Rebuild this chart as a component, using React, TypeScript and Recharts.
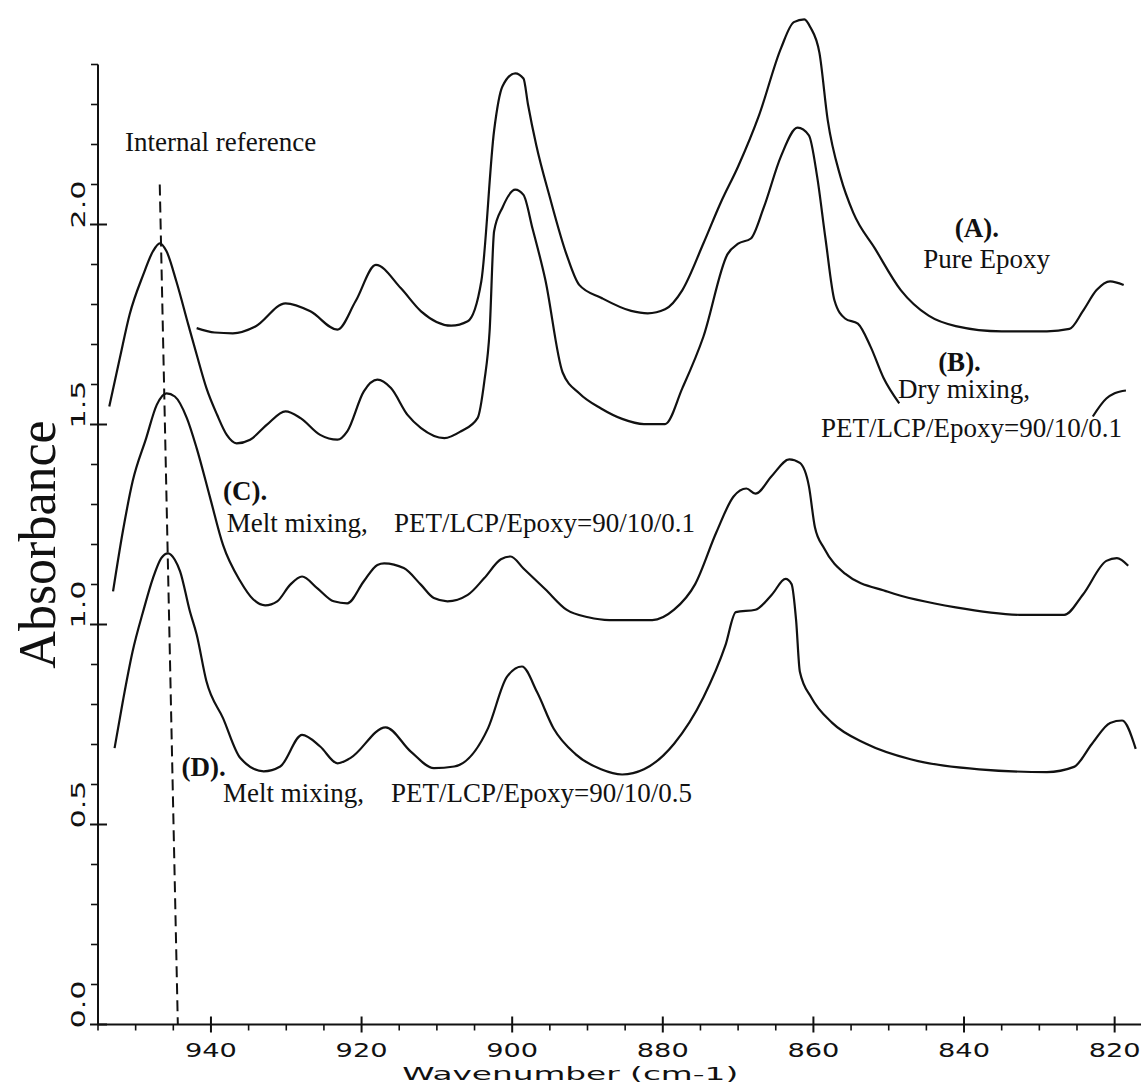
import React from 'react';
import { LineChart, Line, XAxis, YAxis, ReferenceLine, ReferenceDot } from 'recharts';

// ---- data: [wavenumber (cm-1), absorbance] ----
const specA: [number, number][] = [
  [941.9, 1.741], [939.5, 1.73], [937.1, 1.728], [934.1, 1.745], [930.1, 1.803], [926.8, 1.783],
  [923.2, 1.737], [920.8, 1.808], [918.1, 1.899], [914.8, 1.841], [912.1, 1.783], [908.1, 1.747],
  [905.9, 1.758], [904.1, 1.858], [902.4, 2.235], [901.3, 2.345], [899.6, 2.378], [898.5, 2.365],
  [897.9, 2.3], [896.8, 2.198], [895.0, 2.068], [892.8, 1.926], [891.1, 1.849], [888.2, 1.817],
  [884.2, 1.784], [882.0, 1.778], [879.7, 1.788], [877.4, 1.836], [874.6, 1.953], [872.3, 2.055],
  [870.0, 2.145], [867.2, 2.274], [864.3, 2.441], [862.6, 2.506], [861.2, 2.513], [860.4, 2.493],
  [859.2, 2.429], [858.1, 2.261], [856.4, 2.119], [854.7, 2.029], [851.8, 1.939], [848.4, 1.836],
  [844.7, 1.772], [841.1, 1.746], [835.0, 1.733], [829.0, 1.733], [826.0, 1.739], [824.2, 1.784],
  [822.4, 1.836], [820.6, 1.858], [818.8, 1.849],
];

const specB: [number, number | null][] = [
  [953.5, 1.545], [952.1, 1.666], [950.8, 1.775], [949.0, 1.874], [947.7, 1.933], [946.8, 1.953],
  [945.9, 1.933], [944.6, 1.858], [943.0, 1.749], [941.9, 1.675], [940.6, 1.591], [939.2, 1.525],
  [937.9, 1.474], [936.6, 1.453], [934.8, 1.462], [932.6, 1.499], [930.1, 1.533], [928.1, 1.516],
  [925.5, 1.474], [923.2, 1.462], [921.9, 1.483], [919.7, 1.583], [917.9, 1.612], [916.1, 1.591],
  [913.9, 1.524], [912.1, 1.491], [909.0, 1.466], [906.8, 1.483], [904.6, 1.516], [903.7, 1.608],
  [903.0, 1.733], [902.4, 1.983], [901.3, 2.042], [899.6, 2.087], [898.5, 2.074], [897.3, 1.99],
  [895.6, 1.862], [893.3, 1.63], [891.1, 1.578], [888.2, 1.54], [885.4, 1.514], [882.5, 1.501],
  [879.7, 1.501], [877.4, 1.591], [874.6, 1.72], [871.4, 1.926], [870.0, 1.952], [868.3, 1.965],
  [866.6, 2.042], [864.3, 2.171], [862.1, 2.242], [860.6, 2.223], [859.5, 2.119], [858.4, 1.965],
  [857.2, 1.81], [855.8, 1.765], [854.1, 1.752], [852.4, 1.694], [850.7, 1.617], [848.6, 1.553],
  [836.0, null],
  [822.9, 1.52], [821.1, 1.565], [820.0, 1.578], [818.5, 1.585],
];

const specC: [number, number][] = [
  [953.0, 1.083], [951.7, 1.233], [950.4, 1.358], [948.6, 1.466], [947.2, 1.549], [945.9, 1.578],
  [944.8, 1.57], [943.2, 1.516], [941.9, 1.441], [940.1, 1.316], [938.4, 1.199], [936.1, 1.108],
  [934.4, 1.063], [932.8, 1.048], [931.2, 1.058], [929.5, 1.099], [927.9, 1.12], [925.9, 1.091],
  [923.7, 1.058], [921.9, 1.053], [919.7, 1.108], [917.9, 1.149], [917.0, 1.153], [914.4, 1.141],
  [912.1, 1.099], [910.4, 1.066], [908.6, 1.058], [905.9, 1.074], [903.7, 1.116], [901.5, 1.163],
  [900.2, 1.17], [898.5, 1.14], [895.6, 1.088], [892.8, 1.037], [889.9, 1.018], [887.1, 1.011],
  [881.4, 1.011], [878.5, 1.037], [875.7, 1.101], [872.9, 1.23], [870.6, 1.32], [868.9, 1.34],
  [867.7, 1.327], [865.5, 1.372], [863.2, 1.413], [861.8, 1.404], [860.6, 1.346], [859.8, 1.243],
  [858.6, 1.191], [855.8, 1.127], [850.1, 1.082], [841.1, 1.043], [832.1, 1.024], [826.7, 1.024],
  [824.2, 1.075], [821.1, 1.159], [819.7, 1.166], [818.2, 1.147],
];

const specD: [number, number][] = [
  [952.8, 0.691], [951.7, 0.808], [950.4, 0.933], [949.0, 1.033], [947.7, 1.116], [946.6, 1.166],
  [945.7, 1.178], [944.8, 1.162], [944.1, 1.133], [942.8, 1.033], [941.9, 0.975], [940.6, 0.858],
  [938.4, 0.766], [936.1, 0.666], [933.0, 0.633], [930.8, 0.645], [927.9, 0.724], [925.5, 0.695],
  [923.2, 0.653], [921.5, 0.666], [916.8, 0.743], [913.5, 0.683], [910.4, 0.641], [907.7, 0.645],
  [903.2, 0.741], [900.7, 0.869], [898.7, 0.895], [896.7, 0.831], [894.5, 0.74], [891.6, 0.676],
  [888.2, 0.638], [885.4, 0.625], [882.5, 0.638], [878.5, 0.702], [874.6, 0.818], [871.7, 0.947],
  [870.3, 1.031], [867.7, 1.037], [865.5, 1.075], [863.7, 1.114], [862.9, 1.101], [862.3, 1.011],
  [861.8, 0.882], [860.3, 0.818], [857.5, 0.754], [853.0, 0.702], [847.1, 0.663], [838.0, 0.638],
  [829.0, 0.631], [825.4, 0.644], [823.0, 0.702], [820.6, 0.754], [819.0, 0.76], [817.2, 0.689],
];

// internal reference marker (wavenumber, absorbance) end points
const refLine: [number, number][] = [[946.8, 2.1], [944.4, 0]];

// ---- ticks ----
const X_TICKS = [955, 950, 945, 940, 935, 930, 925, 920, 915, 910, 905, 900, 895, 890, 885, 880, 875, 870, 865, 860, 855, 850, 845, 840, 835, 830, 825, 820];
const X_MAJOR = [940, 920, 900, 880, 860, 840, 820];
const Y_TICKS = [0, 0.1, 0.2, 0.3, 0.4, 0.5, 0.6, 0.7, 0.8, 0.9, 1.0, 1.1, 1.2, 1.3, 1.4, 1.5, 1.6, 1.7, 1.8, 1.9, 2.0, 2.1, 2.2, 2.3, 2.4];
const Y_MAJOR = [0, 0.5, 1.0, 1.5, 2.0];
const Y_LABELS = ['0.0', '0.5', '1.0', '1.5', '2.0'];

// ---- annotations (text, anchor in data units) ----
type Annot = { text: string; wn: number; abs: number; anchor: 'start' | 'middle'; bold?: boolean };
const ANNOTS: Annot[] = [
  { text: 'Internal reference', wn: 951.4, abs: 2.184, anchor: 'start' },
  { text: '(A).', wn: 838.3, abs: 1.969, anchor: 'middle', bold: true },
  { text: 'Pure Epoxy', wn: 837.0, abs: 1.891, anchor: 'middle' },
  { text: '(B).', wn: 840.6, abs: 1.634, anchor: 'middle', bold: true },
  { text: 'Dry mixing,', wn: 840.0, abs: 1.566, anchor: 'middle' },
  { text: 'PET/LCP/Epoxy=90/10/0.1', wn: 839.0, abs: 1.469, anchor: 'middle' },
  { text: '(C).', wn: 938.4, abs: 1.311, anchor: 'start', bold: true },
  { text: 'Melt mixing,', wn: 937.9, abs: 1.231, anchor: 'start' },
  { text: 'PET/LCP/Epoxy=90/10/0.1', wn: 915.7, abs: 1.231, anchor: 'start' },
  { text: '(D).', wn: 943.9, abs: 0.621, anchor: 'start', bold: true },
  { text: 'Melt mixing,', wn: 938.4, abs: 0.556, anchor: 'start' },
  { text: 'PET/LCP/Epoxy=90/10/0.5', wn: 916.1, abs: 0.556, anchor: 'start' },
];

const toRows = (arr: [number, number | null][]) => arr.map(([wn, abs]) => ({ wn, abs }));
const dataA = toRows(specA);
const dataB = toRows(specB);
const dataC = toRows(specC);
const dataD = toRows(specD);

const INK = '#111';
const TICK_FONT = 'DejaVu Sans, sans-serif';
const SERIF = '"Liberation Serif", "Times New Roman", serif';

const XTick = (props: any) => {
  const { x, y, payload } = props;
  const v = payload.value;
  const major = X_MAJOR.includes(v);
  return (
    <g>
      {major ? (
        <line x1={x} x2={x} y1={y - 8} y2={y + 8} stroke={INK} strokeWidth={2} />
      ) : (
        <line x1={x} x2={x} y1={y} y2={y + 6} stroke={INK} strokeWidth={1.6} />
      )}
      {major && (
        <text x={x} y={y + 32} textAnchor="middle" fontFamily={TICK_FONT} fontSize={20}
          textLength={52} lengthAdjust="spacingAndGlyphs" fill={INK}>{String(v)}</text>
      )}
    </g>
  );
};

const YTick = (props: any) => {
  const { x, y, payload } = props;
  const v = payload.value;
  const mi = Y_MAJOR.findIndex((m) => Math.abs(m - v) < 1e-6);
  const major = mi >= 0;
  const cx = x - 20.5;
  const cy = y - 20;
  return (
    <g>
      {major ? (
        <line x1={x - 8} x2={x + 9} y1={y} y2={y} stroke={INK} strokeWidth={2} />
      ) : (
        <line x1={x - 7} x2={x} y1={y} y2={y} stroke={INK} strokeWidth={1.6} />
      )}
      {major && (
        <text x={cx} y={cy} transform={`rotate(-90 ${cx} ${cy})`} textAnchor="middle"
          dominantBaseline="central" fontFamily={TICK_FONT} fontSize={20}
          textLength={48} lengthAdjust="spacingAndGlyphs" fill={INK}>{Y_LABELS[mi]}</text>
      )}
    </g>
  );
};

export default function App() {
  return (
    <div style={{ position: 'absolute', left: 0, top: 0, width: 1141, height: 1089, background: '#fff', overflow: 'hidden' }}>
      <LineChart width={1141} height={1089} margin={{ top: 0.5, right: 0, bottom: 0.5, left: 0.5 }}>
        <XAxis
          dataKey="wn"
          type="number"
          domain={[816.5, 955]}
          reversed
          allowDataOverflow
          ticks={X_TICKS}
          interval={0}
          height={64}
          tickSize={0}
          tickMargin={0}
          tickLine={false}
          axisLine={{ stroke: INK, strokeWidth: 2 }}
          tick={<XTick />}
        />
        <YAxis
          type="number"
          domain={[0, 2.56]}
          allowDataOverflow
          ticks={Y_TICKS}
          interval={0}
          width={97.5}
          tickSize={0}
          tickMargin={0}
          tickLine={false}
          axisLine={false}
          tick={<YTick />}
        />
        <ReferenceLine
          segment={[{ x: 955, y: 0 }, { x: 955, y: 2.4 }]}
          stroke={INK}
          strokeWidth={2}
          ifOverflow="visible"
        />
        <ReferenceLine
          segment={[{ x: refLine[0][0], y: refLine[0][1] }, { x: refLine[1][0], y: refLine[1][1] }]}
          stroke={INK}
          strokeWidth={2}
          strokeDasharray="11 6"
          ifOverflow="visible"
        />
        <Line data={dataA} dataKey="abs" type="monotone" stroke={INK} strokeWidth={2.2} dot={false} activeDot={false} isAnimationActive={false} />
        <Line data={dataB} dataKey="abs" type="monotone" stroke={INK} strokeWidth={2.2} dot={false} activeDot={false} connectNulls={false} isAnimationActive={false} />
        <Line data={dataC} dataKey="abs" type="monotone" stroke={INK} strokeWidth={2.2} dot={false} activeDot={false} isAnimationActive={false} />
        <Line data={dataD} dataKey="abs" type="monotone" stroke={INK} strokeWidth={2.2} dot={false} activeDot={false} isAnimationActive={false} />
        {ANNOTS.map((a, i) => (
          <ReferenceDot
            key={`an${i}`}
            x={a.wn}
            y={a.abs}
            r={0}
            ifOverflow="visible"
            shape={(p: any) => (
              <text x={p.cx} y={p.cy} textAnchor={a.anchor} fontFamily={SERIF} fontSize={27}
                fontWeight={a.bold ? 'bold' : 'normal'} fill={INK}>{a.text}</text>
            )}
          />
        ))}
        <ReferenceDot
          x={892.3}
          y={-0.138}
          r={0}
          ifOverflow="visible"
          shape={(p: any) => (
            <text x={p.cx} y={p.cy} textAnchor="middle" fontFamily={TICK_FONT} fontSize={18}
              textLength={336} lengthAdjust="spacingAndGlyphs" fill={INK}>Wavenumber (cm-1)</text>
          )}
        />
        <ReferenceDot
          x={963.0}
          y={1.2}
          r={0}
          ifOverflow="visible"
          shape={(p: any) => (
            <text x={p.cx} y={p.cy} transform={`rotate(-90 ${p.cx} ${p.cy})`} textAnchor="middle"
              dominantBaseline="central" fontFamily={SERIF} fontSize={52} fill={INK}>Absorbance</text>
          )}
        />
      </LineChart>
    </div>
  );
}
